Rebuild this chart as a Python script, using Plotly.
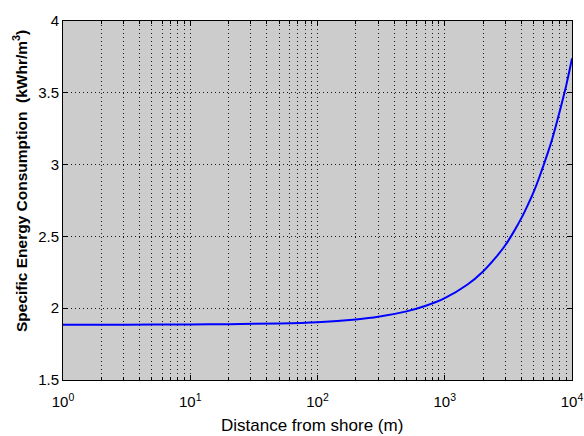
import plotly.graph_objects as go

# Data
distance_m = [1, 2, 5, 10, 20, 50, 100, 200, 300, 500, 700, 1000, 1500, 2000,
              2500, 3000, 3500, 4000, 4500, 5000, 5500, 6000, 6500, 7000,
              7500, 8000, 8500, 9000, 9500, 10000]
sec_kwh_m3 = [1.885, 1.885, 1.886, 1.887, 1.889, 1.894, 1.903, 1.922, 1.940,
              1.978, 2.015, 2.070, 2.163, 2.256, 2.350, 2.440, 2.535, 2.627,
              2.720, 2.810, 2.905, 3.000, 3.090, 3.180, 3.275, 3.370, 3.460,
              3.550, 3.645, 3.740]

x_tick_vals = [1, 10, 100, 1000, 10000]
x_tick_text = ["10<sup>0</sup>", "10<sup>1</sup>", "10<sup>2</sup>",
               "10<sup>3</sup>", "10<sup>4</sup>"]
y_tick_vals = [1.5, 2, 2.5, 3, 3.5, 4]
y_tick_text = ["1.5", "2", "2.5", "3", "3.5", "4"]

x_title = "Distance from shore (m)"
y_title = "<b>Specific Energy Consumption&nbsp; (kWhr/m<sup>3</sup>)</b>"

FONT = "Arial, Liberation Sans, Helvetica, sans-serif"
GRID = "#1a1a1a"
DASH = "1px,3px"

fig = go.Figure()
fig.add_trace(go.Scatter(
    x=distance_m, y=sec_kwh_m3, mode="lines",
    line=dict(color="#0000FF", width=2, shape="spline", smoothing=0.6),
    showlegend=False,
))

fig.update_layout(
    width=584, height=436,
    margin=dict(l=63, r=12, t=21, b=56),
    paper_bgcolor="white",
    plot_bgcolor="#CCCCCC",
    font=dict(family=FONT, size=14, color="black"),
    xaxis=dict(
        type="log", range=[0, 4], automargin=False,
        tickmode="array", tickvals=x_tick_vals, ticktext=x_tick_text,
        ticks="inside", ticklen=5, tickcolor="black",
        showline=True, linecolor="black", linewidth=1, mirror="ticks",
        showgrid=True, gridcolor=GRID, gridwidth=1, griddash=DASH,
        zeroline=False,
        minor=dict(dtick="D1", ticks="inside", ticklen=3, tickcolor="black",
                   showgrid=True, gridcolor=GRID, gridwidth=1, griddash=DASH),
        tickfont=dict(size=15),
        ticklabelstandoff=8,
    ),
    yaxis=dict(
        range=[1.5, 4], automargin=False,
        tickmode="array", tickvals=y_tick_vals, ticktext=y_tick_text,
        ticks="inside", ticklen=5, tickcolor="black",
        showline=True, linecolor="black", linewidth=1, mirror="ticks",
        showgrid=True, gridcolor=GRID, gridwidth=1, griddash=DASH,
        zeroline=False,
        tickfont=dict(size=15),
    ),
    annotations=[
        dict(text=x_title, xref="paper", yref="paper",
             x=(312 - 63) / 509, y=0, xanchor="center", yanchor="middle",
             yshift=-45, showarrow=False, font=dict(size=17)),
        dict(text=y_title, xref="paper", yref="paper",
             x=0, y=(380 - 181) / 359, xanchor="center", yanchor="middle",
             xshift=-43, textangle=-90, showarrow=False,
             font=dict(size=15.5)),
    ],
)

fig.write_html("out.html",
               config={"displayModeBar": False},
               post_script="document.body.style.margin='0px';"
                           "document.body.style.overflow='hidden';")
